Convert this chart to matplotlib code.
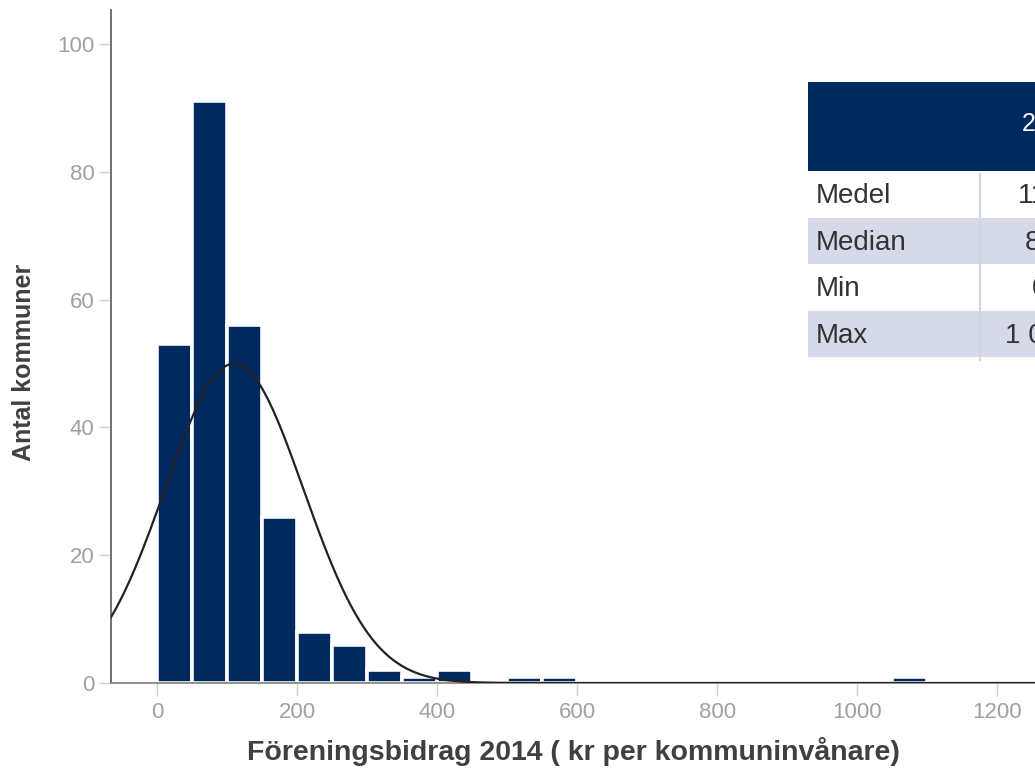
import matplotlib.pyplot as plt
import numpy as np
from matplotlib.patches import Rectangle

plt.rcParams['font.family'] = ['Liberation Sans', 'DejaVu Sans']

# histogram data (bin width 50 kr)
bin_starts = [0, 50, 100, 150, 200, 250, 300, 350, 400, 500, 550, 1050]
counts = [53, 91, 56, 26, 8, 6, 2, 1, 2, 1, 1, 1]
bin_width = 50

# fitted normal curve parameters
fit_mean = 110
fit_sd = 99

x_ticks = [0, 200, 400, 600, 800, 1000, 1200]
y_ticks = [0, 20, 40, 60, 80, 100]

# summary table
table_title = '2014'
row_labels = ['Medel', 'Median', 'Min', 'Max']
row_values = ['110', '86', '0', '1 077']

NAVY = '#002A5F'
LAVENDER = '#D6DAE8'


def main():
    fig = plt.figure(figsize=(10.35, 7.71), dpi=100)
    ax = fig.add_axes([111 / 1035, 1 - 683 / 771, 1 - 111 / 1035, (683 - 10) / 771])

    ax.bar(bin_starts, counts, width=bin_width, align='edge', color=NAVY,
           edgecolor='white', linewidth=2.6, zorder=2)

    n_total = sum(counts)
    xs = np.linspace(-70, 1260, 600)
    ys = n_total * bin_width / (fit_sd * np.sqrt(2 * np.pi)) * np.exp(-0.5 * ((xs - fit_mean) / fit_sd) ** 2)
    ax.plot(xs, ys, color='#222222', linewidth=1.6, zorder=3)

    ax.set_xlim(-66, 1254)
    ax.set_ylim(0, 105.3)
    ax.set_xticks(x_ticks)
    ax.set_yticks(y_ticks)
    ax.tick_params(axis='both', direction='out', length=9, width=1.0, color='#d0d0d0',
                   labelcolor='#a0a0a0', labelsize=16)
    ax.tick_params(axis='x', pad=5)
    ax.tick_params(axis='y', pad=3)
    for side in ['top', 'right']:
        ax.spines[side].set_visible(False)
    ax.spines['left'].set_color('#666666')
    ax.spines['left'].set_linewidth(1.3)
    ax.spines['bottom'].set_color('#888888')
    ax.spines['bottom'].set_linewidth(1.3)

    ax.set_xlabel('Föreningsbidrag 2014 ( kr per kommuninvånare)', fontsize=20.5,
                  fontweight='bold', color='#404040', labelpad=10)
    ax.set_ylabel('Antal kommuner', fontsize=18, fontweight='bold', color='#404040')
    ax.yaxis.set_label_coords(-0.081, 0.477)

    # overlay in pixel coordinates for the summary table
    ov = fig.add_axes([0, 0, 1, 1], zorder=5)
    ov.set_xlim(0, 1035)
    ov.set_ylim(771, 0)
    ov.axis('off')
    ov.patch.set_alpha(0)

    left, right = 808, 1100
    head_top, head_bot = 82, 171
    row_h = 46.5
    div_x = 980
    ov.add_patch(Rectangle((left, head_top), right - left, head_bot - head_top,
                           facecolor=NAVY, edgecolor='none'))
    ov.text(1050, 124, table_title, color='white', fontsize=18,
            ha='center', va='center')
    for i, (lab, val) in enumerate(zip(row_labels, row_values)):
        top = head_bot + i * row_h
        if i % 2 == 1:
            ov.add_patch(Rectangle((left, top), right - left, row_h,
                                   facecolor=LAVENDER, edgecolor='none'))
        ov.text(816, top + row_h / 2 + 2, lab, color='#333333', fontsize=20,
                ha='left', va='center')
        ov.text(1040, top + row_h / 2 + 2, val, color='#333333', fontsize=20,
                ha='center', va='center')
    ov.plot([div_x, div_x], [head_bot + 3, head_bot + 4 * row_h + 3], color='#D0D4E4',
            linewidth=1.6)

    fig.savefig('out.png', dpi=100)


if __name__ == '__main__':
    main()
